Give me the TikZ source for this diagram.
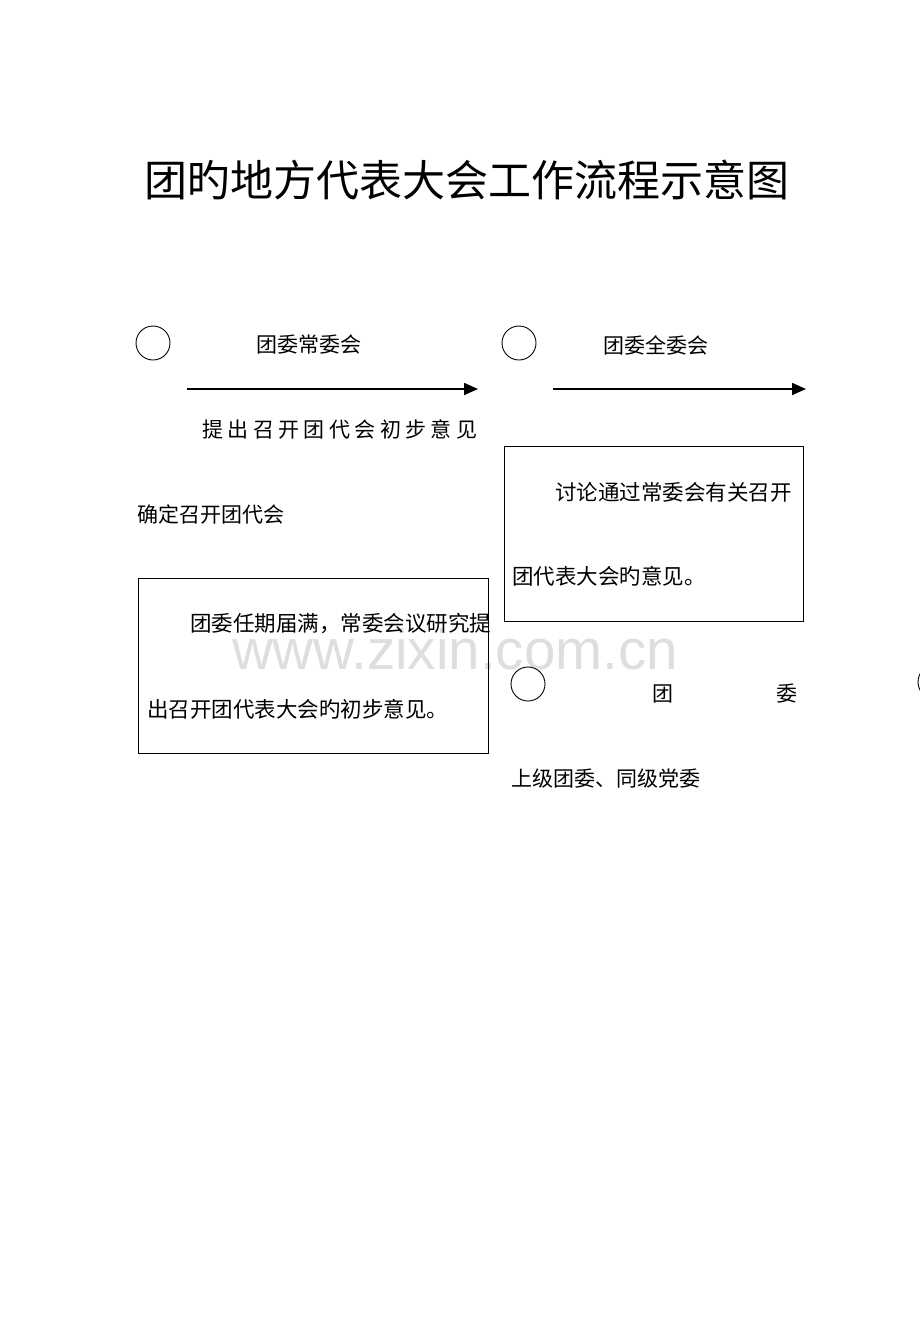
\documentclass[tikz,border=0pt]{standalone}
\usepackage{fontspec}
\setmainfont{Liberation Sans}
\newfontfamily\cjk{Noto Sans CJK SC}
\newfontfamily\cjkspaced[LetterSpace=21]{Noto Sans CJK SC}
\newcommand{\titlefont}{\cjk\fontsize{43pt}{48pt}\selectfont}
\newcommand{\labelfont}{\cjk\fontsize{21pt}{25pt}\selectfont}
\newcommand{\boxfont}{\cjk\fontsize{21.5pt}{26pt}\selectfont}
\usepackage{tikz}
\usetikzlibrary{arrows.meta, positioning}

\begin{document}
\begin{tikzpicture}[x=1pt, y=-1pt,
  lbl/.style={font=\labelfont, inner sep=0pt, anchor=west},
  boxtxt/.style={font=\boxfont, inner sep=0pt, anchor=west},
  ring/.style={circle, draw, line width=0.9pt, minimum size=34pt, inner sep=0pt},
  stepframe/.style={draw, line width=1.3pt, minimum width=350pt, minimum height=175pt, anchor=north west, inner sep=0pt},
  flow/.style={line width=1.8pt, -{Triangle[length=14pt, width=12pt]}}]
  \useasboundingbox (0,0) rectangle (920,1330);
  \clip (0,0) rectangle (920,1330);

  % --- Title ---
  \node[font=\titlefont, inner sep=0pt] (title) at (467,180) {团旳地方代表大会工作流程示意图};

  % --- watermark ---
  \node[font=\fontsize{56.5pt}{60pt}\selectfont, text=black!13, inner sep=0pt] (mark) at (455,649) {www.zixin.com.cn};

  % --- Standing committee ---
  \node[ring] (c1) at (153,343) {};
  \node[lbl] (sc) at (256,345) {团委常委会};
  \coordinate (a1s) at (187,389);
  \coordinate (a1e) at (478,389);
  \draw[flow] (a1s) -- (a1e);
  \node[font=\cjkspaced\fontsize{21pt}{25pt}\selectfont, inner sep=0pt, anchor=west] (prop) at (202,429) {提出召开团代会初步意见};
  \node[lbl] (conf) at (137,514) {确定召开团代会};
  \node[stepframe] (box1) at (138,578) {};
  \node[boxtxt] (b1a) at (190,624) {团委任期届满，常委会议研究提};
  \node[boxtxt] (b1b) at (147,709) {出召开团代表大会旳初步意见。};

  % --- Full committee ---
  \node[ring] (c2) at (519,343) {};
  \node[lbl] (fc) at (603,345) {团委全委会};
  \coordinate (a2s) at (553,389);
  \coordinate (a2e) at (806,389);
  \draw[flow] (a2s) -- (a2e);
  \node[stepframe, minimum width=299pt] (box2) at (504,446) {};
  \node[boxtxt] (b2a) at (555,492) {讨论通过常委会有关召开};
  \node[boxtxt] (b2b) at (512,576) {团代表大会旳意见。};

  % --- Third step ---
  \node[ring] (c3) at (528,684) {};
  \node[lbl] (t1) at (652,694) {团};
  \node[lbl] (t2) at (776,694) {委};
  \node[lbl] (up) at (511,779) {上级团委、同级党委};
  \node[ring] (c4) at (935,682) {};
\end{tikzpicture}
\end{document}
